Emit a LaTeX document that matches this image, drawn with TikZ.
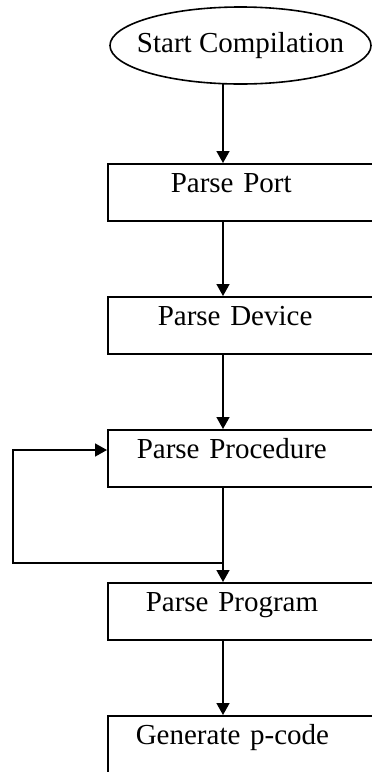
\documentclass[tikz,border=0pt]{standalone}
\usepackage{fontspec}
\setmainfont{Liberation Serif}
\usetikzlibrary{arrows.meta,calc,shapes.geometric}

\tikzset{
  lbl/.style={font=\fontsize{29}{34}\selectfont},
  stepbox/.style={draw, line width=1.6pt, rectangle, anchor=north west,
    inner ysep=0pt, text height=29pt, text depth=28pt, align=left, lbl},
  startnode/.style={draw, line width=1.6pt, ellipse, inner xsep=-22pt, inner ysep=0pt,
    minimum width=261pt, minimum height=77pt, lbl},
  arr/.style={line width=1.6pt, -{Triangle[length=12pt,width=13pt]}},
}

\begin{document}
\begin{tikzpicture}[x=1pt, y=-1pt]
  \useasboundingbox (0,0) rectangle (372,772);
  \clip (0,0) rectangle (372,772);

  % start terminal
  \node[startnode] (start) at (240.5,45.5) {Start Compilation};

  % processing steps (boxes run past the right margin)
  \node[stepbox, inner xsep=63pt, text width=159pt] (port) at (107,163) {Parse Port};
  \node[stepbox, inner xsep=50pt, text width=185pt] (dev)  at (107,296) {Parse Device};
  \node[stepbox, inner xsep=29pt, text width=227pt] (proc) at (107,429) {Parse Procedure};
  \node[stepbox, inner xsep=38pt, text width=209pt] (prog) at (107,582) {Parse Program};
  \node[stepbox, inner xsep=28pt, text width=229pt] (gen)  at (107,715) {Generate p-code};

  % vertical spine of the flow
  \coordinate (spine) at (223,0);
  \draw[arr] ($(start.south -| spine)+(0,1pt)$) -- (port.north -| spine);
  \draw[arr] (port.south -| spine) -- (dev.north -| spine);
  \draw[arr] (dev.south -| spine) -- (proc.north -| spine);
  \draw[arr] (proc.south -| spine) -- (prog.north -| spine);
  \draw[arr] (prog.south -| spine) -- (gen.north -| spine);

  % repeat loop back into Parse Procedure
  \coordinate (lp) at (223,563);
  \coordinate (lx) at (13,0);
  \coordinate (procin) at ($(proc.north west)+(0,-21pt)$);
  \draw[arr] (lp) -- (lp -| lx) |- (procin);
\end{tikzpicture}
\end{document}
